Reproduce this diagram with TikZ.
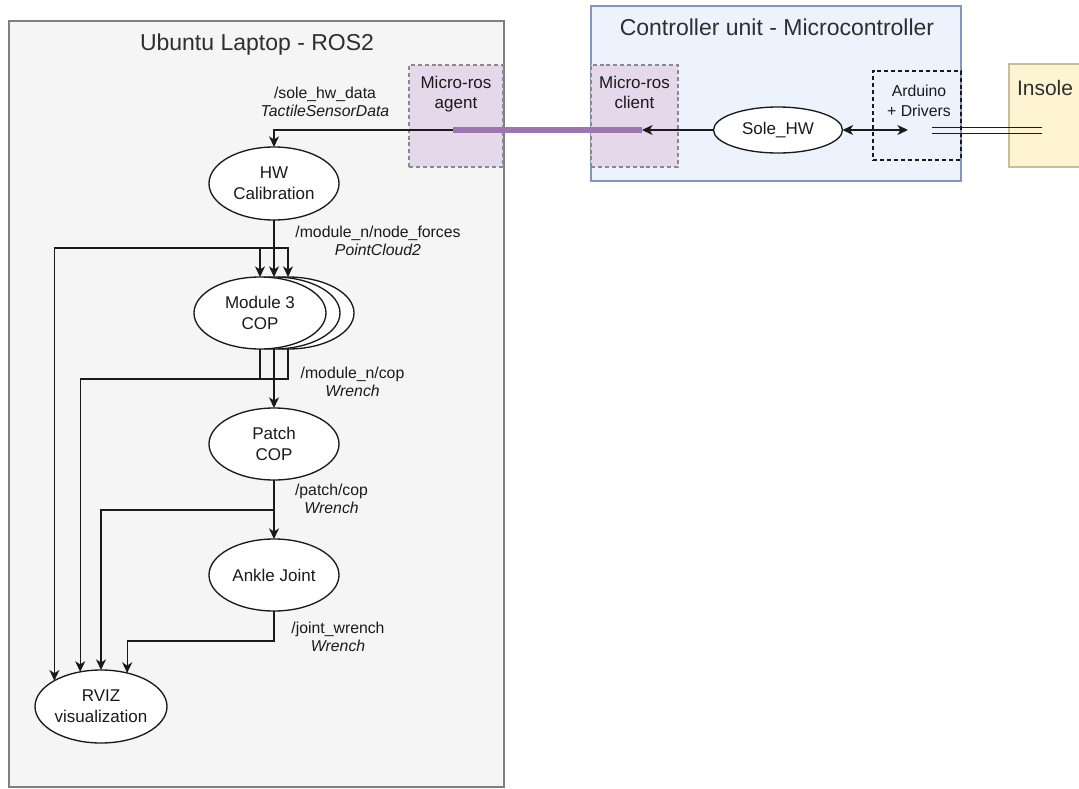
\documentclass[tikz,border=0pt]{standalone}
\usepackage{fontspec}
\setmainfont{Liberation Sans}
\usetikzlibrary{arrows.meta,shapes.geometric}

\definecolor{ubfill}{HTML}{F5F5F5}
\definecolor{ubline}{HTML}{7F7F7F}
\definecolor{mcfill}{HTML}{EDF3FD}
\definecolor{mcline}{HTML}{8197BB}
\definecolor{rosfill}{HTML}{E4D8EA}
\definecolor{dashline}{HTML}{8A8A8A}
\definecolor{linkcol}{HTML}{9B76B0}
\definecolor{insfill}{HTML}{FFF4D2}
\definecolor{insline}{HTML}{C9BE97}
\definecolor{ink}{HTML}{1A1A1A}
\definecolor{titleink}{HTML}{2E2E2E}

\begin{document}
\begin{tikzpicture}[x=0.75pt,y=-0.75pt,
  every node/.style={inner sep=0pt,outer sep=0pt,text=ink},
  tip/.tip={Stealth[length=8pt,width=7.5pt,inset=2.4pt]},
  conn/.style={draw=ink,line width=1pt,-tip},
  plain/.style={draw=ink,line width=1pt},
  rosnode/.style={ellipse,draw=ink,line width=1pt,fill=white,
    minimum width=97.5pt,minimum height=54pt,align=center,
    font=\fontsize{12.75}{15.75}\selectfont},
  boxtitle/.style={font=\fontsize{17.25}{20}\selectfont,text=titleink},
  topic/.style={align=center,font=\fontsize{11.85}{13.9}\selectfont},
  portbox/.style={draw=dashline,fill=rosfill,line width=0.8pt,
    dash pattern=on 3pt off 2.2pt,anchor=north west},
  porttext/.style={align=center,font=\fontsize{12.75}{15}\selectfont},
  link/.style={draw=linkcol,line width=4.5pt},
]
\useasboundingbox (0,0) rectangle (1079,789);
\fill[white] (0,0) rectangle (1079,789);

% ---------- containers ----------
\node[draw=ubline,fill=ubfill,line width=0.8pt,anchor=north west,
      minimum width=371.25pt,minimum height=574.5pt] (ubuntu) at (9,21) {};
\node[boxtitle,anchor=base] (ubtitle) at (257,50) {Ubuntu Laptop - ROS2};

\node[draw=mcline,fill=mcfill,line width=0.8pt,anchor=north west,
      minimum width=277.5pt,minimum height=131.25pt] (mcu) at (591,6) {};
\node[boxtitle,anchor=base] (mctitle) at (777,35) {Controller unit - Microcontroller};

\node[portbox,minimum width=70.5pt,minimum height=76.5pt] (agent) at (409,65) {};
\node[porttext,anchor=north] (agenttext) at (456,76) {Micro-ros\\agent};

\node[portbox,minimum width=65.25pt,minimum height=76.5pt] (client) at (591,65) {};
\node[porttext,anchor=north] (clienttext) at (634.5,76) {Micro-ros\\client};

\node[draw=ink,line width=0.8pt,dash pattern=on 3pt off 2.2pt,anchor=north west,
      minimum width=66pt,minimum height=66.75pt] (arduino) at (873,71) {};
\node[align=center,font=\fontsize{11.85}{15}\selectfont,anchor=north] (arduinotext)
      at (919,85) {Arduino\\+ Drivers};

% insole block runs past the right edge, so its right side is left open
\node[fill=insfill,anchor=north west,minimum width=53pt,minimum height=77.25pt]
      (insole) at (1009,64) {};
\draw[insline,line width=0.8pt] (insole.north east) -- (insole.north west)
      -- (insole.south west) -- (insole.south east);
\node[boxtitle,font=\fontsize{15.75}{18}\selectfont,anchor=base west] (insoletext)
      at (1017,95) {Insole};

% ---------- ROS nodes ----------
\node[rosnode,minimum width=96.75pt,minimum height=34.5pt] (sole) at (778,130) {Sole\_HW};
\node[rosnode,minimum height=54.75pt] (hw) at (274,183.5) {HW\\Calibration};
\node[rosnode,minimum width=99pt] (modC) at (288,313) {};
\node[rosnode,minimum width=99pt] (modB) at (274,313) {};
\node[rosnode,minimum width=99pt] (modA) at (260,313) {Module 3\\COP};
\node[rosnode] (patch) at (274,444) {Patch\\COP};
\node[rosnode] (ankle) at (274,575) {Ankle Joint};
\node[rosnode,minimum width=99pt,minimum height=54.75pt] (rviz) at (101,706.5) {RVIZ\\visualization};

% ---------- topic labels ----------
\node[topic,anchor=north] (tsole) at (325,87) {/sole\_hw\_data\\\textit{TactileSensorData}};
\node[topic,anchor=north] (tforces) at (378,226) {/module\_n/node\_forces\\\textit{PointCloud2}};
\node[topic,anchor=north] (tmcop) at (352.5,367) {/module\_n/cop\\\textit{Wrench}};
\node[topic,anchor=north] (tpcop) at (331.5,484) {/patch/cop\\\textit{Wrench}};
\node[topic,anchor=north] (tjoint) at (338,622) {/joint\_wrench\\\textit{Wrench}};

% ---------- junction points ----------
\coordinate (clientin) at (642,130);
\coordinate (agentout) at (453,130);
\coordinate (drvin) at (908,130);
\coordinate (drvout) at (932,130.5);
\coordinate (insin) at (1042,130.5);
\coordinate (busA) at (274,248);
\coordinate (busB) at (274,379);
\coordinate (busC) at (274,510);
\coordinate (busD) at (274,641);

% ---------- micro-ROS link ----------
\draw[conn] (clientin) -| (hw.north);
\draw[link] (agentout) -- (clientin);
\draw[conn] (sole.west) -- (clientin);
\draw[draw=ink,line width=1pt,tip-tip] (sole.east) -- (drvin);
\draw[draw=ink,line width=0.75pt] ([yshift=1.9pt]drvout) -- ([yshift=1.9pt]insin);
\draw[draw=ink,line width=0.75pt] ([yshift=-1.9pt]drvout) -- ([yshift=-1.9pt]insin);

% ---------- data flow ----------
\draw[conn] (hw.south) -- (busA) -| (modA.north);
\draw[conn] (hw.south) -- (modB.north);
\draw[conn] (busA) -| (modC.north);
\draw[conn] (busA) -| (rviz.151.4);

\draw[plain] (modA.south) -- (modA.south |- busB);
\draw[conn] (modB.south) -- (patch.north);
\draw[conn] (modC.south) -- (modC.south |- busB) -| (rviz.121.25);

\draw[conn] (patch.south) -- (ankle.north);
\draw[conn] (busC) -| (rviz.north);

\draw[conn] (ankle.south) -- (busD) -| (rviz.52.2);
\end{tikzpicture}
\end{document}
